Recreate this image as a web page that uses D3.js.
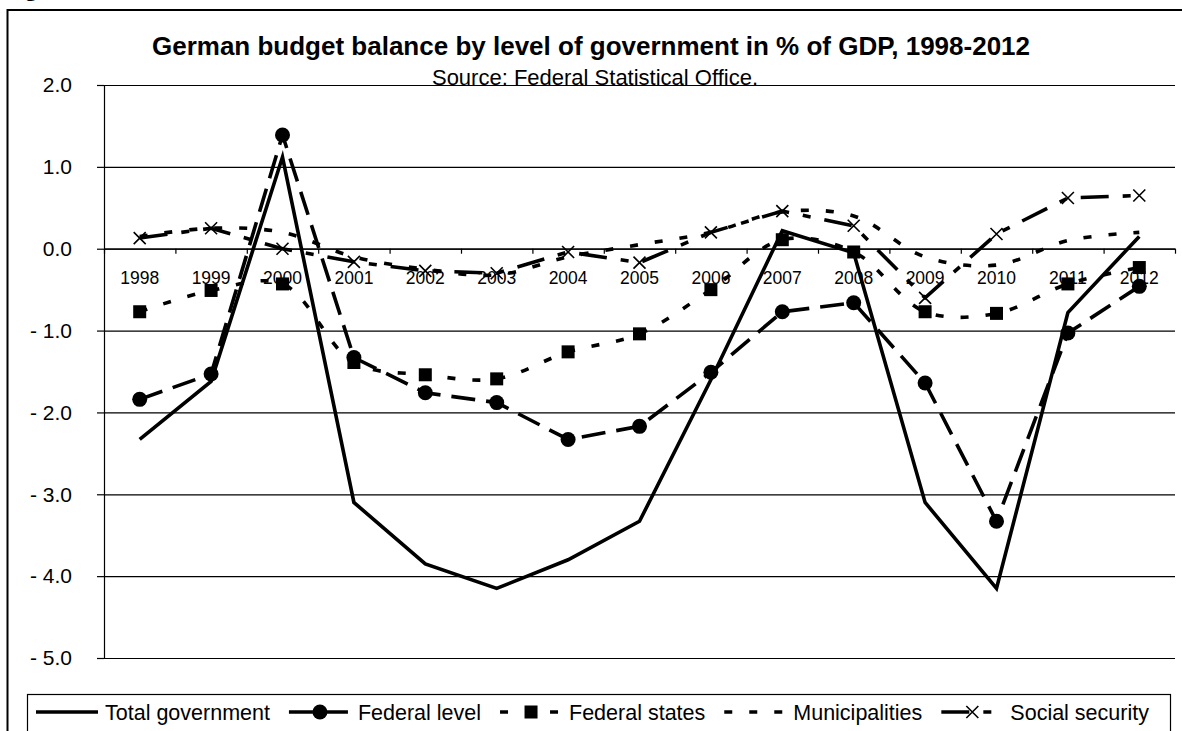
<!DOCTYPE html>
<html>
<head>
<meta charset="utf-8">
<script src="https://cdn.jsdelivr.net/npm/d3@7"></script>
<style>
  body { margin: 0; background: #fff; }
  text { font-family: Arial, "Liberation Sans", sans-serif; fill: #000; }
</style>
</head>
<body>
<svg width="1182" height="731"></svg>
<script>
//data
const years = ["1998", "1999", "2000", "2001", "2002", "2003", "2004", "2005", "2006", "2007", "2008", "2009", "2010", "2011", "2012"];
const totalGov = [-2.33, -1.62, 1.12, -3.1, -3.85, -4.15, -3.8, -3.33, -1.6, 0.22, -0.05, -3.1, -4.15, -0.78, 0.15];
const federalLevel = [-1.84, -1.53, 1.39, -1.33, -1.76, -1.88, -2.33, -2.17, -1.51, -0.77, -0.66, -1.64, -3.33, -1.03, -0.46];
const federalStates = [-0.77, -0.51, -0.43, -1.39, -1.54, -1.59, -1.26, -1.04, -0.5, 0.11, -0.04, -0.77, -0.79, -0.43, -0.23];
const municipalities = [0.15, 0.25, 0.2, -0.1, -0.25, -0.32, -0.1, 0.05, 0.2, 0.45, 0.4, -0.1, -0.2, 0.1, 0.2];
const socialSecurity = [0.13, 0.25, 0.0, -0.16, -0.27, -0.3, -0.04, -0.17, 0.2, 0.46, 0.28, -0.6, 0.18, 0.62, 0.65];
const yTicks = [2, 1, 0, -1, -2, -3, -4, -5];

const series = [
    {name: "Total government", values: totalGov, dash: null, marker: "none", smooth: false},
    {name: "Federal level", values: federalLevel, dash: "24,11", marker: "circle", smooth: false},
    {name: "Federal states", values: federalStates, dash: "8,17", marker: "square", smooth: true},
    {name: "Municipalities", values: municipalities, dash: "8,17", marker: "none", smooth: true},
    {name: "Social security", values: socialSecurity, dash: "28,14,8,14", marker: "cross", smooth: false}
];

//layout
const plot = {left: 104, right: 1175, top: 85, bottom: 658};

const svg = d3.select("svg");

svg.append("rect")
    .attr("width", 1182)
    .attr("height", 731)
    .attr("fill", "#fff");

//outer frame (runs off the picture on the right and bottom)
svg.append("rect")
    .attr("x", 7.5)
    .attr("y", 10)
    .attr("width", 1220)
    .attr("height", 800)
    .attr("fill", "none")
    .attr("stroke", "#000")
    .attr("stroke-width", 2);

svg.append("text")
    .attr("x", 6)
    .attr("y", -4)
    .style("font-family", "'Liberation Serif', serif")
    .style("font-weight", "bold")
    .style("font-size", "22px")
    .text("Figure 1:");

//scales
const x = d3.scaleBand()
    .domain(years)
    .range([plot.left, plot.right]);

const xEdge = d3.scaleLinear()
    .domain([0, years.length])
    .range([plot.left, plot.right]);

const y = d3.scaleLinear()
    .domain([-5, 2])
    .range([plot.bottom, plot.top]);

//title
svg.append("text")
    .attr("x", 591)
    .attr("y", 55)
    .style("text-anchor", "middle")
    .style("font-size", "26px")
    .style("font-weight", "bold")
    .text("German budget balance by level of government in % of GDP, 1998-2012");

svg.append("text")
    .attr("x", 595)
    .attr("y", 85)
    .style("text-anchor", "middle")
    .style("font-size", "22px")
    .text("Source: Federal Statistical Office.");

//grid
const grid = svg.append("g")
    .attr("transform", "translate(" + plot.left + ",0)")
    .call(d3.axisRight(y)
        .tickValues(yTicks)
        .tickSize(plot.right - plot.left)
        .tickFormat(""));
grid.select(".domain").remove();
grid.selectAll("line").attr("stroke", "#000").attr("stroke-width", 1.2);

//y axis
const fmt = v => v < 0 ? "- " + Math.abs(v).toFixed(1) : v.toFixed(1);
const gY = svg.append("g")
    .attr("transform", "translate(" + plot.left + ",0)")
    .call(d3.axisLeft(y)
        .tickValues(yTicks)
        .tickSize(7)
        .tickSizeOuter(0)
        .tickPadding(25)
        .tickFormat(fmt));
gY.selectAll("text").style("font-size", "21px").style("font-family", "Arial, 'Liberation Sans', sans-serif");
gY.selectAll("line, path").attr("stroke", "#000").attr("stroke-width", 1.2);

//x axis at zero
const gX = svg.append("g")
    .attr("transform", "translate(0," + y(0) + ")")
    .call(d3.axisBottom(xEdge)
        .tickValues(d3.range(0, years.length + 1))
        .tickSize(5)
        .tickSizeOuter(0)
        .tickFormat(""));
gX.selectAll("line, path").attr("stroke", "#000").attr("stroke-width", 1.2);

const gXL = svg.append("g")
    .attr("transform", "translate(0," + y(0) + ")")
    .call(d3.axisBottom(x)
        .tickSize(0)
        .tickPadding(23));
gXL.select(".domain").remove();
gXL.selectAll("text").style("font-size", "17.5px").style("font-family", "Arial, 'Liberation Sans', sans-serif");

//lines
const chart = svg.append("g");

function drawMarker(g, type) {
    if (type === "circle") {
        g.append("circle").attr("r", 7.5).attr("fill", "#000");
    } else if (type === "square") {
        g.append("rect").attr("x", -6.5).attr("y", -6.5).attr("width", 13).attr("height", 13).attr("fill", "#000");
    } else if (type === "cross") {
        g.append("path").attr("d", "M-6,-6L6,6M-6,6L6,-6").attr("stroke", "#000").attr("stroke-width", 1.6).attr("fill", "none");
    }
}

series.forEach(s => {
    const line = d3.line()
        .x((d, i) => x(years[i]) + x.bandwidth() / 2)
        .y(d => y(d))
        .curve(s.smooth ? d3.curveCatmullRom.alpha(0.5) : d3.curveLinear);

    chart.append("path")
        .datum(s.values)
        .attr("d", line)
        .attr("fill", "none")
        .attr("stroke", "#000")
        .attr("stroke-width", 3.6)
        .attr("stroke-dasharray", s.dash);

    chart.selectAll(null)
        .data(s.values)
        .enter()
        .append("g")
        .attr("transform", (d, i) => "translate(" + (x(years[i]) + x.bandwidth() / 2) + "," + y(d) + ")")
        .each(function() { drawMarker(d3.select(this), s.marker); });
});

//legend
const legend = svg.append("g");
legend.append("rect")
    .attr("x", 27.5)
    .attr("y", 694.5)
    .attr("width", 1143)
    .attr("height", 60)
    .attr("fill", "#fff")
    .attr("stroke", "#000")
    .attr("stroke-width", 1.2);

let lx = 36;
series.forEach(s => {
    const item = legend.append("g").attr("transform", "translate(" + lx + ",712)");
    item.append("line")
        .attr("x1", 0).attr("x2", 62)
        .attr("stroke", "#000")
        .attr("stroke-width", 3.6)
        .attr("stroke-dasharray", s.dash);
    const m = item.append("g").attr("transform", "translate(31,0)");
    drawMarker(m, s.marker);
    const t = item.append("text")
        .attr("x", 69)
        .attr("y", 8)
        .style("font-size", "21.5px")
        .text(s.name);
    lx += 69 + t.node().getComputedTextLength() + 19;
});
</script>
</body>
</html>
